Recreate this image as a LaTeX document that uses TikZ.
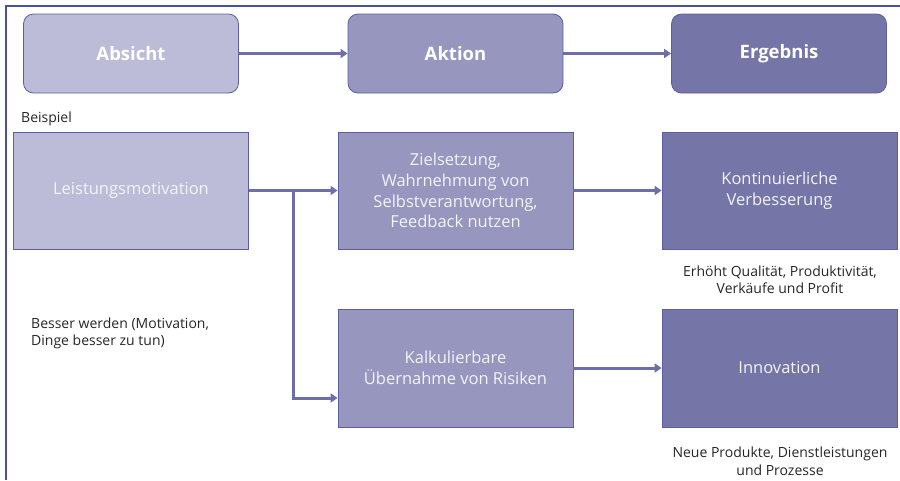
\documentclass[tikz,border=0pt]{standalone}
\usepackage{fontspec}
\setmainfont{Open Sans}
\usetikzlibrary{arrows.meta}
\definecolor{frameC}{HTML}{4A519C}
\definecolor{edgeC}{HTML}{5B5EA6}
\definecolor{arrC}{HTML}{6E6EAA}
\definecolor{fillA}{HTML}{BCBCD9}
\definecolor{fillB}{HTML}{9696BE}
\definecolor{fillC}{HTML}{7575A8}
\definecolor{boxText}{HTML}{F4F4FA}
\definecolor{noteText}{HTML}{262626}
\tikzset{
  head/.style={draw=edgeC, line width=0.8pt, rounded corners=10pt, text=white,
    font=\fontsize{18.5}{22}\selectfont\bfseries, minimum width=215pt, minimum height=79pt, inner sep=0pt},
  card/.style={draw=edgeC, line width=0.8pt, text=boxText, align=center,
    font=\fontsize{16.5}{20.8}\selectfont, minimum width=235pt, minimum height=117pt, inner sep=0pt},
  note/.style={text=noteText, font=\fontsize{14}{17.5}\selectfont, inner sep=0pt},
  flow/.style={draw=arrC, line width=3pt, -{Triangle[length=7pt,width=9pt]}},
  trunk/.style={draw=arrC, line width=3pt}
}
\begin{document}
\begin{tikzpicture}[x=1pt,y=-1pt]
\useasboundingbox (0,0) rectangle (900,480);
\draw[frameC, line width=1.3pt] (6,480) -- (6,6) -- (900,6);
% header row
\node[head, fill=fillA] (absicht) at (131,53.5) {Absicht};
\node[head, fill=fillB] (aktion) at (455.5,53.5) {Aktion};
\node[head, fill=fillC] (ergebnis) at (779,53.5) {Ergebnis};
\draw[flow] (absicht) -- (aktion);
\draw[flow] (aktion) -- (ergebnis);
% example row
\node[note, anchor=west] (beispiel) at (21,119) {Beispiel};
\node[card, fill=fillA] (leist) at (131,190.5) {Leistungsmotivation};
\node[card, fill=fillB] (ziel) at (455.5,190.5) {Zielsetzung,\\Wahrnehmung von\\Selbstverantwortung,\\Feedback nutzen};
\node[card, fill=fillC] (kont) at (779.5,190.5) {Kontinuierliche\\Verbesserung};
\node[card, fill=fillB, minimum height=118pt] (kalk) at (455.5,368) {Kalkulierbare\\Übernahme von Risiken};
\node[card, fill=fillC, minimum height=118pt] (innov) at (779.5,368) {Innovation};
\coordinate (branch) at (293,190.5);
\coordinate (bend) at (293,398);
\draw[flow] (leist.east) -- (ziel.west);
\draw[trunk] (branch) -- (bend);
\draw[flow] ([xshift=-1.5pt]bend) -- (bend -| kalk.west);
\draw[flow] (ziel) -- (kont);
\draw[flow] (kalk) -- (innov);
% notes
\node[note, align=center] (n1) at (780,279.5) {Erhöht Qualität, Produktivität,\\Verkäufe und Profit};
\node[note, align=left, anchor=west] (n2) at (31,333.5) {Besser werden (Motivation,\\Dinge besser zu tun)};
\node[note, align=center] (n3) at (780,461) {Neue Produkte, Dienstleistungen\\und Prozesse};
\end{tikzpicture}
\end{document}
